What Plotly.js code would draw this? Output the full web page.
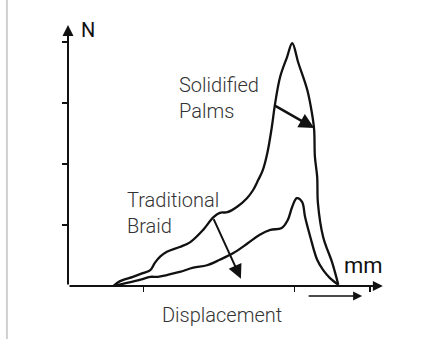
<!DOCTYPE html>
<html>
<head>
<meta charset="utf-8">
<script src="https://cdn.plot.ly/plotly-3.0.1.min.js"></script>
<style>html,body{margin:0;padding:0;background:#fff;}#chart{width:441px;height:339px;}</style>
</head>
<body>
<div id="chart"></div>
<script>
// Solidified Palms curve (displacement, force)
const palmsX = [0.60,0.69,0.86,0.99,1.09,1.15,1.22,1.31,1.48,1.62,1.79,1.92,2.01,2.11,2.24,2.37,2.45,2.52,2.58,2.64,2.70,2.74,2.81,2.90,2.97,3.05,3.17,3.23,3.26,3.27,3.30,3.31,3.38,3.50,3.58];
const palmsY = [0.00,0.08,0.15,0.21,0.26,0.38,0.48,0.56,0.64,0.72,0.92,1.12,1.20,1.21,1.30,1.44,1.57,1.74,1.90,2.18,2.61,2.97,3.43,3.75,3.98,3.66,3.21,2.84,2.56,2.12,1.79,1.36,0.80,0.38,0.02];
// Traditional Braid curve
const braidX = [0.60,0.78,0.95,1.09,1.19,1.31,1.48,1.66,1.84,2.01,2.19,2.38,2.54,2.68,2.83,2.91,2.97,3.03,3.10,3.14,3.21,3.30,3.38,3.47,3.58];
const braidY = [0.00,0.05,0.10,0.15,0.15,0.18,0.23,0.30,0.34,0.43,0.54,0.70,0.84,0.92,0.95,1.08,1.30,1.44,1.38,1.13,0.80,0.43,0.26,0.13,0.02];
const xTicks = [1,3,4];
const yTicks = [1,2,3,4];
const labels = {palms:"Solidified<br>Palms", braid:"Traditional<br>Braid", x:"Displacement", xUnit:"mm", yUnit:"N"};

const lineStyle = {color:'#111', width:2.3, shape:'spline', smoothing:1.0};
const traces = [
  {x:palmsX, y:palmsY, mode:'lines', line:lineStyle, hoverinfo:'skip', showlegend:false},
  {x:braidX, y:braidY, mode:'lines', line:lineStyle, hoverinfo:'skip', showlegend:false}
];

function arrow(x0,y0,x1,y1,w,size){
  return {x:x1,y:y1,ax:x0,ay:y0,xref:'x',yref:'y',axref:'x',ayref:'y',text:'',showarrow:true,
          arrowhead:2,arrowsize:size,arrowwidth:w,arrowcolor:'#111',standoff:0,startstandoff:0};
}
const font = {family:'Roboto, sans-serif', size:20, color:'#333', weight:300};
const annotations = [
  arrow(0,0,0,4.28,2,1.1),
  arrow(0,0,4.17,0,2,1.0),
  {x:0.886,y:-0.037,xref:'paper',yref:'paper',ax:-55,ay:0,axref:'pixel',ayref:'pixel',text:'',showarrow:true,
   arrowhead:2,arrowsize:1.2,arrowwidth:1.5,arrowcolor:'#111',standoff:0,startstandoff:0},
  arrow(2.72,2.97,3.26,2.59,2.5,1.2),
  arrow(1.92,1.12,2.29,0.12,2,1.4),
  {x:1.45,y:3.52,xref:'x',yref:'y',text:labels.palms,showarrow:false,xanchor:'left',yanchor:'top',align:'left',font:font},
  {x:0.76,y:1.64,xref:'x',yref:'y',text:labels.braid,showarrow:false,xanchor:'left',yanchor:'top',align:'left',font:font},
  {x:0.464,y:-0.107,xref:'paper',yref:'paper',text:labels.x,showarrow:false,xanchor:'center',yanchor:'middle',font:font},
  {x:3.63,y:0.33,xref:'x',yref:'y',text:labels.xUnit,showarrow:false,xanchor:'left',yanchor:'middle',font:{family:'Roboto, sans-serif',size:22,color:'#111'}},
  {x:0.15,y:4.2,xref:'x',yref:'y',text:labels.yUnit,showarrow:false,xanchor:'left',yanchor:'middle',font:{family:'Roboto, sans-serif',size:20,color:'#111'}}
];
const layout = {
  width:441, height:339,
  margin:{l:68, r:41, t:15, b:53},
  paper_bgcolor:'#fff', plot_bgcolor:'#fff',
  xaxis:{range:[0,4.397], showgrid:false, zeroline:false, showline:false, tickmode:'array', tickvals:xTicks,
         ticks:'outside', ticklen:5, tickwidth:1.5, tickcolor:'#111', showticklabels:false, fixedrange:true},
  yaxis:{range:[0,4.443], showgrid:false, zeroline:false, showline:false, tickmode:'array', tickvals:yTicks,
         ticks:'outside', ticklen:5, tickwidth:1.5, tickcolor:'#111', showticklabels:false, fixedrange:true},
  shapes:[{type:'line', xref:'paper', yref:'paper', x0:-0.184, x1:-0.184, y0:-0.2, y1:1.06, line:{color:'#cfcfcf', width:2}}],
  annotations:annotations
};
Plotly.newPlot('chart', traces, layout, {displayModeBar:false, staticPlot:true});
</script>
</body>
</html>
